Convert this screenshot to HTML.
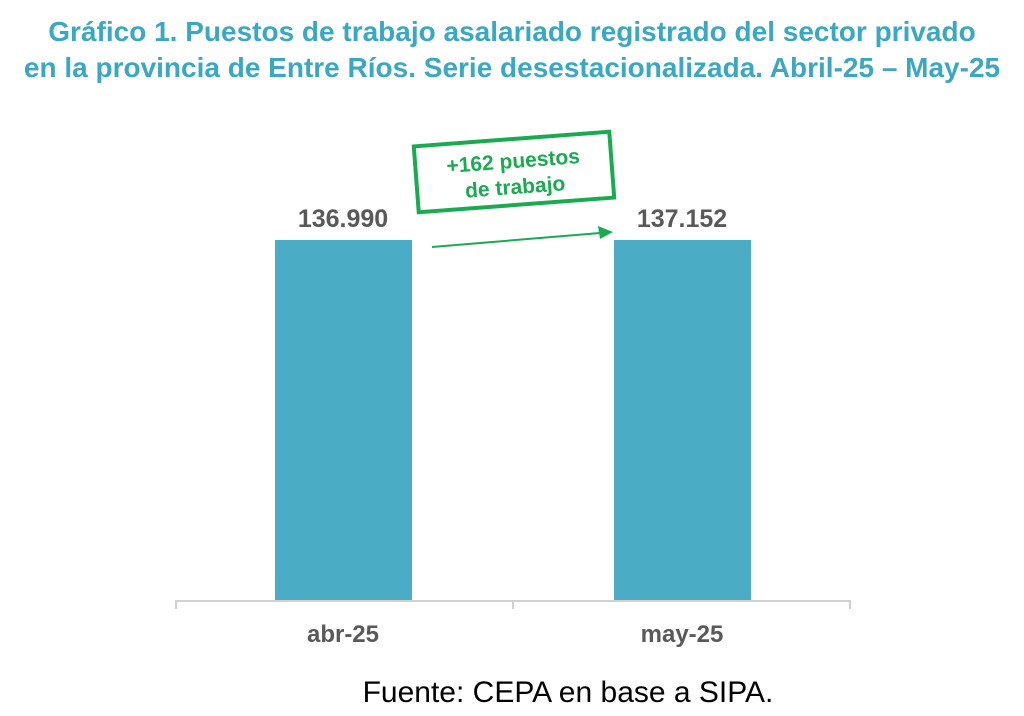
<!DOCTYPE html>
<html><head><meta charset="utf-8"><style>
body{margin:0;width:1024px;height:716px;background:#fff;overflow:hidden;position:relative;font-family:"Liberation Sans",sans-serif}
.t{position:absolute;left:0;width:1024px;text-align:center;color:#3aa8c2;font-weight:bold;font-size:28px;white-space:nowrap}
</style></head><body>
<div class="t" style="top:16px">Gráfico 1. Puestos de trabajo asalariado registrado del sector privado</div>
<div class="t" style="top:52px">en la provincia de Entre Ríos. Serie desestacionalizada. Abril-25 – May-25</div>
<svg width="1024" height="716" style="position:absolute;left:0;top:0">
<rect x="275" y="240" width="137" height="360" fill="#4bacc6"/>
<rect x="614" y="240" width="137" height="360" fill="#4bacc6"/>
<line x1="175" y1="601" x2="851" y2="601" stroke="#d0d0d0" stroke-width="2"/>
<line x1="176" y1="601" x2="176" y2="609" stroke="#d0d0d0" stroke-width="2"/>
<line x1="513" y1="601" x2="513" y2="609" stroke="#d0d0d0" stroke-width="2"/>
<line x1="850" y1="601" x2="850" y2="609" stroke="#d0d0d0" stroke-width="2"/>
<text x="343" y="227" text-anchor="middle" font-size="25" font-weight="bold" fill="#595959">136.990</text>
<text x="682" y="227" text-anchor="middle" font-size="25" font-weight="bold" fill="#595959">137.152</text>
<text x="343" y="642" text-anchor="middle" font-size="24" font-weight="bold" fill="#595959">abr-25</text>
<text x="682" y="642" text-anchor="middle" font-size="24" font-weight="bold" fill="#595959">may-25</text>
<text x="568" y="702" text-anchor="middle" font-size="30" fill="#000">Fuente: CEPA en base a SIPA.</text>
<g transform="rotate(-4.3 514 172)">
<rect x="416" y="139" width="196" height="66" fill="#fff" stroke="#1aab50" stroke-width="4"/>
<text x="514" y="168" text-anchor="middle" font-size="21" font-weight="bold" fill="#1aab50">+162 puestos</text>
<text x="514" y="194" text-anchor="middle" font-size="21" font-weight="bold" fill="#1aab50">de trabajo</text>
</g>
<line x1="432" y1="247" x2="600" y2="233" stroke="#1aab50" stroke-width="2"/>
<polygon points="613,232 598,226 600,239" fill="#1aab50"/>
</svg>
</body></html>
